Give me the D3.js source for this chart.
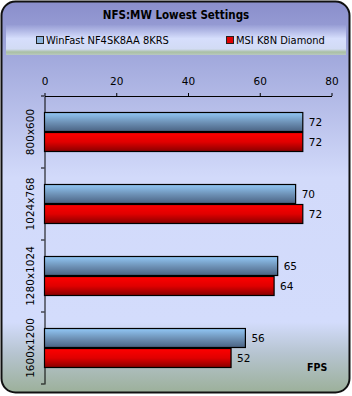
<!DOCTYPE html>
<html>
<head>
<meta charset="utf-8">
<script src="https://cdn.jsdelivr.net/npm/d3@7"></script>
<style>
  body { margin: 0; background: #fff; }
  text { font-family: "DejaVu Sans", Verdana, sans-serif; }
  .cond { font-family: "DejaVu Sans Condensed", "DejaVu Sans", sans-serif; }
</style>
</head>
<body>
<svg id="chart" width="352" height="396"></svg>
<script>
let title = "NFS:MW Lowest Settings";
let categories = ["800x600", "1024x768", "1280x1024", "1600x1200"];
let seriesNames = ["WinFast NF4SK8AA 8KRS", "MSI K8N Diamond"];
let winfast = [72, 70, 65, 56];
let msi = [72, 72, 64, 52];
let xTicks = [0, 20, 40, 60, 80];

let svg = d3.select("#chart");
let defs = svg.append("defs");

function grad(id, stops) {
  let g = defs.append("linearGradient").attr("id", id)
    .attr("x1", 0).attr("y1", 0).attr("x2", 0).attr("y2", 1);
  for (let s of stops) {
    g.append("stop").attr("offset", s[0]).attr("stop-color", s[1]);
  }
}

grad("bg", [[0, "#8a8ecb"], [0.1, "#9ba2d8"], [0.45, "#d2dafa"], [0.82, "#d3dcfc"], [0.9, "#b6c4d0"], [1, "#9cb09a"]]);
grad("leg", [[0, "#979dd5"], [0.45, "#d6defc"], [0.8, "#d2dbf4"], [0.9, "#a9bfa3"], [1, "#b8c8c0"]]);
grad("blue", [[0, "#92c8f6"], [0.5, "#6f93b8"], [1, "#4a6282"]]);
grad("red", [[0, "#ff0000"], [0.5, "#e00000"], [1, "#880000"]]);

// outer frame
svg.append("rect")
  .attr("x", 1.5).attr("y", 1.5).attr("width", 348).attr("height", 391)
  .attr("rx", 14).attr("ry", 14)
  .attr("fill", "url(#bg)").attr("stroke", "#111").attr("stroke-width", 2);

svg.append("text")
  .attr("class", "cond")
  .attr("x", 176).attr("y", 19)
  .attr("text-anchor", "middle")
  .attr("font-size", 11.5).attr("font-weight", "bold")
  .text(title);

// legend band
svg.append("rect")
  .attr("x", 6).attr("y", 25).attr("width", 340).attr("height", 30)
  .attr("fill", "url(#leg)");

let legendX = [36, 226];
let legendFill = ["#8cb4dc", "#e00000"];
seriesNames.forEach((name, i) => {
  svg.append("rect")
    .attr("x", legendX[i] + 0.5).attr("y", 36.5).attr("width", 7).attr("height", 7)
    .attr("fill", legendFill[i]).attr("stroke", "#222");
  svg.append("text")
    .attr("class", "cond")
    .attr("x", legendX[i] + 10).attr("y", 44)
    .attr("font-size", 11)
    .text(name);
});

let x = d3.scaleLinear().domain([0, 80]).range([44.5, 331.5]);
let y = d3.scaleBand().domain(categories).range([96, 384]).paddingInner(0).paddingOuter(0);

let xAxis = svg.append("g")
  .attr("transform", "translate(0,96)")
  .call(d3.axisTop(x).tickValues(xTicks).tickSize(3).tickSizeOuter(0).tickPadding(8));
xAxis.select(".domain").attr("stroke", "#000");
xAxis.selectAll("text").attr("font-size", 10.5).attr("fill", "#000");

let yAxis = svg.append("g")
  .attr("transform", "translate(44.5,0)")
  .call(d3.axisLeft(y).tickSize(0).tickSizeOuter(0).tickFormat(""));
yAxis.select(".domain").attr("stroke", "#000");

// separator ticks between categories
let seps = categories.map(c => y(c)).concat([y.range()[1]]);
svg.selectAll(".sep").data(seps).enter().append("line")
  .attr("x1", 41).attr("x2", 44.5)
  .attr("y1", d => d).attr("y2", d => d)
  .attr("stroke", "#000");

svg.selectAll(".ylab").data(categories).enter().append("text")
  .attr("transform", d => `translate(34,${y(d) + y.bandwidth() / 2}) rotate(-90)`)
  .attr("text-anchor", "middle")
  .attr("font-size", 10.5)
  .text(d => d);

let barH = 20;
let series = [winfast, msi];
let fills = ["url(#blue)", "url(#red)"];

series.forEach((vals, si) => {
  let g = svg.append("g");
  g.selectAll("rect").data(vals).enter().append("rect")
    .attr("x", x(0))
    .attr("y", (d, i) => y(categories[i]) + 16 + si * barH + 0.5)
    .attr("width", d => x(d) - x(0))
    .attr("height", barH - 1)
    .attr("fill", fills[si])
    .attr("stroke", "#000").attr("stroke-width", 1.2);
  g.selectAll("text").data(vals).enter().append("text")
    .attr("x", d => x(d) + 6)
    .attr("y", (d, i) => y(categories[i]) + 16 + si * barH + barH / 2 + 4)
    .attr("font-size", 10.5)
    .text(d => d);
});

svg.append("text")
  .attr("class", "cond")
  .attr("x", 307).attr("y", 371)
  .attr("font-size", 10.5).attr("font-weight", "bold")
  .text("FPS");
</script>
</body>
</html>
